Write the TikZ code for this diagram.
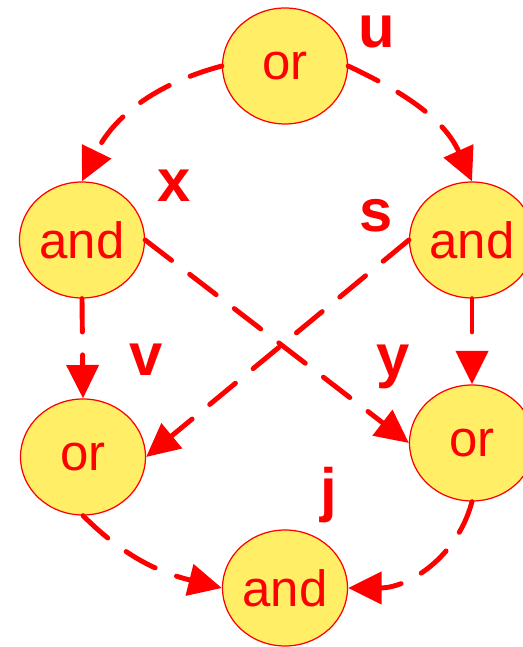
\documentclass[tikz,border=0pt]{standalone}
\usepackage{fontspec}
\setmainfont{Liberation Sans}
\usetikzlibrary{arrows.meta,shapes.geometric}
\definecolor{gatefill}{RGB}{255,238,102}
\begin{document}
\begin{tikzpicture}[x=1cm, y=1cm,
  gate/.style={ellipse, draw=red, line width=0.7pt, fill=gatefill, text=red,
    minimum width=2.5cm, minimum height=2.32cm, inner sep=0pt,
    font=\fontsize{29}{34}\selectfont},
  tag/.style={anchor=base, text=red, inner sep=0pt,
    font=\fontsize{34}{40}\selectfont\bfseries},
  flow/.style={draw=red, line width=2.8pt, line cap=round,
    dash pattern=on 19pt off 13pt, -{Triangle[length=19pt, width=18pt]}}]
  \useasboundingbox (0,0) rectangle (10.46,12.94);
  \node[gate] (u) at (5.70,11.62) {or};
  \node[gate] (x) at (1.64,8.14) {and};
  \node[gate] (s) at (9.44,8.14) {and};
  \node[gate] (v) at (1.66,3.80) {or};
  \node[gate] (y) at (9.44,4.08) {or};
  \node[gate] (j) at (5.70,1.18) {and};
  \node[tag] (lu) at (7.54,11.98) {u};
  \node[tag] (lx) at (3.48,8.90) {x};
  \node[tag] (ls) at (7.52,8.30) {s};
  \node[tag] (lv) at (2.92,5.42) {v};
  \node[tag] (ly) at (7.86,5.40) {y};
  \node[tag] (lj) at (6.58,2.72) {j};
  \draw[flow] (u.west) to[out=195, in=64] (x.north);
  \draw[flow] (u.east) to[out=-25, in=114] (s.north);
  \draw[flow] (x.south) -- (v.north);
  \draw[flow] (s.south) -- (y.north);
  \draw[flow] (x.east) -- (y.west);
  \draw[flow] (s.west) -- (v.east);
  \draw[flow] (v.south) to[out=-45, in=166] (j.west);
  \draw[flow] (y.south) to[out=-105, in=0] (j.east);
\end{tikzpicture}
\end{document}
